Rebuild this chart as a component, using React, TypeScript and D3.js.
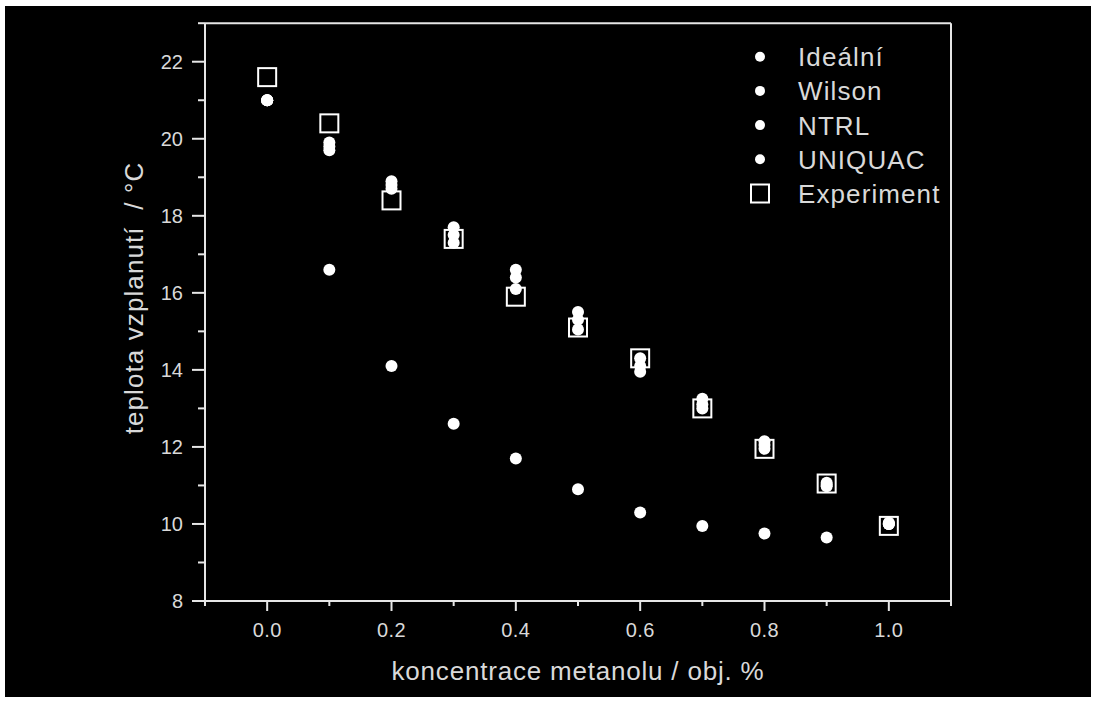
import React from "react";
import * as d3 from "d3";

const concentration = [0, 0.1, 0.2, 0.3, 0.4, 0.5, 0.6, 0.7, 0.8, 0.9, 1.0];
const ideal = [21.0, 16.6, 14.1, 12.6, 11.7, 10.9, 10.3, 9.95, 9.75, 9.65, 10.0];
const wilson = [21.0, 19.9, 18.9, 17.7, 16.6, 15.5, 14.3, 13.25, 12.15, 11.07, 10.03];
const ntrl = [21.0, 19.8, 18.8, 17.5, 16.4, 15.3, 14.1, 13.1, 12.05, 11.02, 10.0];
const uniquac = [21.0, 19.7, 18.7, 17.3, 16.1, 15.05, 13.95, 13.0, 11.95, 10.98, 10.0];
const experiment = [21.6, 20.4, 18.4, 17.4, 15.9, 15.1, 14.3, 13.0, 11.95, 11.05, 9.95];

const xMajorTicks = [0, 0.2, 0.4, 0.6, 0.8, 1.0];
const xMinorTicks = [-0.1, 0.1, 0.3, 0.5, 0.7, 0.9, 1.1];
const yMajorTicks = [8, 10, 12, 14, 16, 18, 20, 22];
const yMinorTicks = [9, 11, 13, 15, 17, 19, 21, 23];

const legendLabels = ["Ideální", "Wilson", "NTRL", "UNIQUAC", "Experiment"];

const FONT = "'Liberation Sans', Arial, Helvetica, sans-serif";
const AXIS = "#e6e6e6";
const TEXT = "#d9d9d9";

export default function App() {
  const W = 1097;
  const H = 702;
  const x = d3.scaleLinear().domain([-0.1, 1.1]).range([205, 951]);
  const y = d3.scaleLinear().domain([8, 23]).range([601, 23.2]);
  const dotSeries = [ideal, wilson, ntrl, uniquac];
  const sq = 18;

  return (
    <svg
      width={W}
      height={H}
      style={{ position: "absolute", left: 0, top: 0, display: "block" }}
      fontFamily={FONT}
    >
      <rect x={0} y={0} width={W} height={H} fill="#ffffff" />
      <rect x={5} y={6} width={1086} height={691} fill="#000000" />

      {/* frame */}
      <line x1={x(-0.1)} x2={x(1.1)} y1={y(8)} y2={y(8)} stroke={AXIS} strokeWidth={2} />
      <line x1={x(-0.1)} x2={x(1.1)} y1={y(23)} y2={y(23)} stroke={AXIS} strokeWidth={2} />
      <line x1={x(-0.1)} x2={x(-0.1)} y1={y(8)} y2={y(23)} stroke={AXIS} strokeWidth={2} />
      <line x1={x(1.1)} x2={x(1.1)} y1={y(8)} y2={y(23)} stroke={AXIS} strokeWidth={2} />

      {/* x ticks */}
      {xMajorTicks.map((t) => (
        <g key={"xm" + t}>
          <line x1={x(t)} x2={x(t)} y1={y(8)} y2={y(8) + 10} stroke={AXIS} strokeWidth={2} />
          <text x={x(t)} y={637} textAnchor="middle" fontSize={20} fill={TEXT} letterSpacing={0.4}>
            {t.toFixed(1)}
          </text>
        </g>
      ))}
      {xMinorTicks.map((t) => (
        <line key={"xn" + t} x1={x(t)} x2={x(t)} y1={y(8)} y2={y(8) + 5} stroke={AXIS} strokeWidth={2} />
      ))}

      {/* y ticks */}
      {yMajorTicks.map((t) => (
        <g key={"ym" + t}>
          <line x1={x(-0.1) - 13} x2={x(-0.1)} y1={y(t)} y2={y(t)} stroke={AXIS} strokeWidth={2} />
          <text x={183} y={y(t) + 7} textAnchor="end" fontSize={20} fill={TEXT}>
            {t}
          </text>
        </g>
      ))}
      {yMinorTicks.map((t) => (
        <line key={"yn" + t} x1={x(-0.1) - 7} x2={x(-0.1)} y1={y(t)} y2={y(t)} stroke={AXIS} strokeWidth={2} />
      ))}

      {/* axis titles */}
      <text x={578} y={680} textAnchor="middle" fontSize={26} fill={TEXT} letterSpacing={0.8}>
        koncentrace metanolu / obj. %
      </text>
      <text
        x={143}
        y={298}
        transform="rotate(-90, 143, 298)"
        textAnchor="middle"
        fontSize={26}
        fill={TEXT}
        letterSpacing={1.1}
        style={{ whiteSpace: "pre" }}
      >
        {"teplota vzplanutí  / °C"}
      </text>

      {/* model points */}
      {dotSeries.map((series, si) =>
        series.map((v, i) => (
          <circle key={"d" + si + "-" + i} cx={x(concentration[i])} cy={y(v)} r={6} fill="#ffffff" />
        ))
      )}

      {/* experiment squares */}
      {experiment.map((v, i) => (
        <rect
          key={"e" + i}
          x={x(concentration[i]) - sq / 2}
          y={y(v) - sq / 2}
          width={sq}
          height={sq}
          fill="none"
          stroke="#ffffff"
          strokeWidth={2}
        />
      ))}

      {/* legend */}
      {legendLabels.map((label, i) => {
        const ly = 56.7 + i * 34.2;
        return (
          <g key={"l" + i}>
            {i < 4 ? (
              <circle cx={760} cy={ly} r={5} fill="#ffffff" />
            ) : (
              <rect x={751} y={ly - 9} width={18} height={18} fill="none" stroke="#ffffff" strokeWidth={2} />
            )}
            <text x={798} y={ly + 9.5} fontSize={26} fill={TEXT} letterSpacing={1.1}>
              {label}
            </text>
          </g>
        );
      })}
    </svg>
  );
}
